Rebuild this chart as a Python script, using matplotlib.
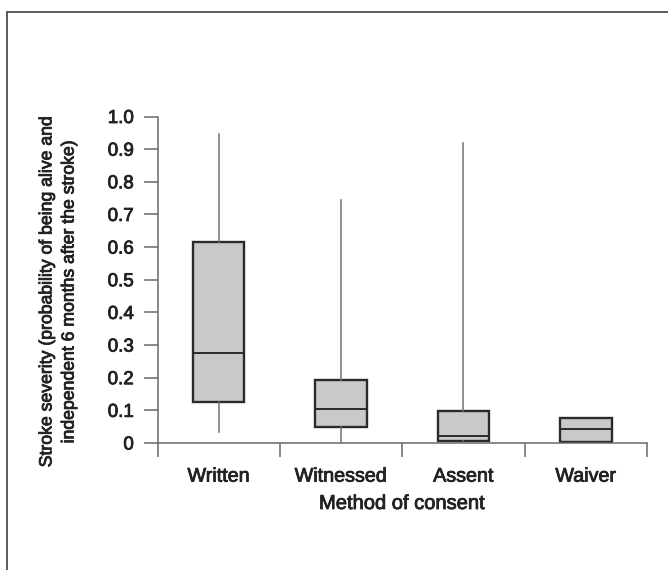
import matplotlib
matplotlib.use("Agg")
import matplotlib.pyplot as plt
from matplotlib.lines import Line2D
import matplotlib.patheffects as pe

# Summary statistics of stroke severity by consent method
categories = ["Written", "Witnessed", "Assent", "Waiver"]
whisker_low = [0.035, 0.0, 0.0, 0.004]
q1 = [0.125, 0.048, 0.007, 0.004]
medians = [0.275, 0.104, 0.022, 0.042]
q3 = [0.615, 0.193, 0.098, 0.078]
whisker_high = [0.945, 0.745, 0.919, 0.078]
y_ticks = [0, 0.1, 0.2, 0.3, 0.4, 0.5, 0.6, 0.7, 0.8, 0.9, 1.0]
y_tick_labels = ["0", "0.1", "0.2", "0.3", "0.4", "0.5", "0.6", "0.7", "0.8", "0.9", "1.0"]

plt.rcParams["font.family"] = ["Liberation Sans", "DejaVu Sans"]
text_color = "#222222"
# slightly heavier strokes than the regular face
heavy = [pe.withStroke(linewidth=0.6, foreground=text_color)]

W, H = 668, 570
fig = plt.figure(figsize=(W / 100, H / 100), dpi=100)
ax = fig.add_axes([157.5 / W, 127 / H, (647 - 157.5) / W, (443 - 116.5) / H])

stats = []
for i, name in enumerate(categories):
    stats.append(dict(label=name, med=medians[i], q1=q1[i], q3=q3[i],
                      whislo=whisker_low[i], whishi=whisker_high[i], fliers=[]))

positions = [i + 0.5 for i in range(len(categories))]
ax.bxp(stats, positions=positions, widths=0.42, patch_artist=True,
       showcaps=False, showfliers=False,
       boxprops=dict(facecolor="#c9c9c9", edgecolor="#2a2a2a", linewidth=1.7),
       medianprops=dict(color="#2a2a2a", linewidth=1.4),
       whiskerprops=dict(color="#707070", linewidth=1.1))

ax.set_xlim(0, len(categories))
ax.set_ylim(0, 1.0)

for side in ("top", "right"):
    ax.spines[side].set_visible(False)
for side in ("left", "bottom"):
    ax.spines[side].set_color("#6a6a6a")
    ax.spines[side].set_linewidth(1.1)

ax.set_yticks(y_ticks)
ax.set_yticklabels(y_tick_labels)
ax.set_xticks(range(len(categories) + 1))
ax.set_xticklabels([])
ax.set_xticks(positions, minor=True)
ax.set_xticklabels(categories, minor=True)

ax.tick_params(axis="y", which="major", direction="out", length=10, width=1.1,
               color="#6a6a6a", pad=7)
ax.tick_params(axis="x", which="major", direction="out", length=10, width=1.1,
               color="#6a6a6a")
ax.tick_params(axis="x", which="minor", length=0, pad=17)
for lbl in ax.get_yticklabels():
    lbl.set_fontsize(13.5)
    lbl.set_color(text_color)
    lbl.set_path_effects(heavy)
for lbl in ax.get_xticklabels(minor=True):
    lbl.set_fontsize(14.2)
    lbl.set_color(text_color)
    lbl.set_path_effects(heavy)

# Axis titles
fig.text(402 / W, 1 - 509 / H, "Method of consent", ha="center", va="baseline",
         fontsize=14.5, color=text_color, path_effects=heavy)
fig.text(58 / W, 1 - 292 / H,
         "Stroke severity (probability of being alive and\nindependent 6 months after the stroke)",
         ha="center", va="center", rotation=90, multialignment="center",
         linespacing=1.4, fontsize=12.7, color=text_color, path_effects=heavy)

# Frame lines along the top and left edges of the figure
fig.add_artist(Line2D([7 / W, 1.0], [1 - 12 / H, 1 - 12 / H],
                      transform=fig.transFigure, color="#5a5a5a", linewidth=1.4))
fig.add_artist(Line2D([7 / W, 7 / W], [0.0, 1 - 12 / H],
                      transform=fig.transFigure, color="#5a5a5a", linewidth=1.4))

fig.savefig("out.png", dpi=100, facecolor="white")
